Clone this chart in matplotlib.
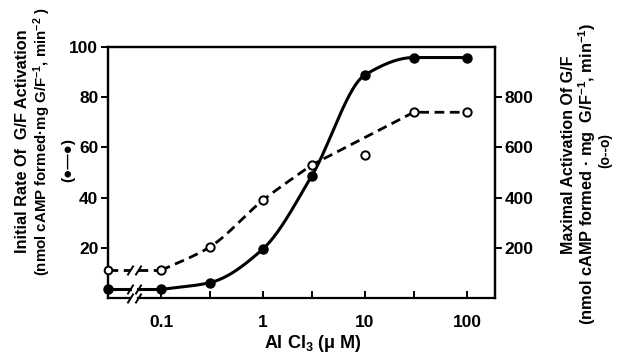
import numpy as np
import matplotlib
matplotlib.use('Agg')
import matplotlib.pyplot as plt
from matplotlib.ticker import FixedLocator, NullFormatter

plt.rcParams['font.family'] = ['Liberation Sans', 'DejaVu Sans']
plt.rcParams['font.weight'] = 'bold'
plt.rcParams['mathtext.fontset'] = 'custom'
plt.rcParams['mathtext.rm'] = 'Liberation Sans:bold'
plt.rcParams['mathtext.it'] = 'Liberation Sans:bold:italic'
plt.rcParams['mathtext.bf'] = 'Liberation Sans:bold'
plt.rcParams['mathtext.default'] = 'rm'

# данные (контроль без AlCl3 рисуется на левой оси)
conc = [0.1, 0.3, 1, 3, 10, 30, 100]
rate = [3.4, 6.1, 19.6, 48.6, 88.9, 95.8, 95.8]            # левая ось, ●
maxact = [110, 203, 390, 530, 568, 740, 740]                # правая ось, o
rate_ctrl = 3.4
maxact_ctrl = 110
dash_curve_idx = [0, 1, 2, 3, 5, 6]   # точка при 10 мкМ лежит вне кривой

x_ctrl = 0.0302
x_right = 188
brk = [0.050, 0.0596]


def pchip(x, y, xs):
    x = np.asarray(x, float)
    y = np.asarray(y, float)
    h = np.diff(x)
    d = np.diff(y) / h
    n = len(x)
    m = np.zeros(n)
    m[0], m[-1] = d[0], d[-1]
    for k in range(1, n - 1):
        if d[k - 1] * d[k] > 0:
            w1 = 2 * h[k] + h[k - 1]
            w2 = h[k] + 2 * h[k - 1]
            m[k] = (w1 + w2) / (w1 / d[k - 1] + w2 / d[k])
    i = np.clip(np.searchsorted(x, xs) - 1, 0, n - 2)
    t = (xs - x[i]) / h[i]
    h00 = 2 * t**3 - 3 * t**2 + 1
    h10 = t**3 - 2 * t**2 + t
    h01 = -2 * t**3 + 3 * t**2
    h11 = t**3 - t**2
    return h00 * y[i] + h10 * h[i] * m[i] + h01 * y[i + 1] + h11 * h[i] * m[i + 1]


fig = plt.figure(figsize=(6.19, 3.55), dpi=100)
ax = fig.add_axes([0.1745, 0.1606, 0.6252, 0.707])
ax2 = ax.twinx()

ax.set_xscale('log')
ax.set_xlim(x_ctrl, x_right)
ax.set_ylim(0, 100)
ax2.set_ylim(0, 1000)

lx = np.log10(conc)

# сплошная кривая (●)
xs = np.linspace(lx[0], lx[-1], 300)
ax.plot(10**xs, pchip(lx, rate, xs), color='black', lw=2.2, solid_capstyle='butt')
ax.plot(conc, rate, 'o', color='black', ms=6.5, zorder=5)

# пунктирная кривая (o)
dl = [lx[i] for i in dash_curve_idx]
dv = [maxact[i] for i in dash_curve_idx]
xs2 = np.linspace(dl[0], dl[3], 200)
dash_x = np.concatenate([10**xs2, [10**dl[4], 10**dl[5]]])
dash_y = np.concatenate([pchip(dl[:4], dv[:4], xs2), [dv[4], dv[5]]])
ax2.plot(dash_x, dash_y, color='black', lw=2.0, ls=(0, (3.5, 2)))
ax2.plot(conc, maxact, 'o', mfc='white', mec='black', mew=1.4, ms=6, zorder=5)

# контроль и разрывы
slash = [(-1, -1.6), (1, 1.6)]
ax.plot([x_ctrl, brk[0]], [rate_ctrl, rate_ctrl], color='black', lw=2.2, clip_on=False)
ax.plot([brk[1], conc[0]], [rate_ctrl, rate_ctrl], color='black', lw=2.2)
ax.plot(brk, [rate_ctrl, rate_ctrl], ls='none', marker=slash, ms=7, mew=1.4, color='black')
ax.plot([x_ctrl], [rate_ctrl], 'o', color='black', ms=6.5, clip_on=False, zorder=6)

ax2.plot([x_ctrl, brk[0]], [maxact_ctrl, maxact_ctrl], color='black', lw=2.0, ls=(0, (3.5, 2)), clip_on=False)
ax2.plot([brk[1], conc[0]], [maxact_ctrl, maxact_ctrl], color='black', lw=2.0, ls=(0, (3.5, 2)))
ax2.plot(brk, [maxact_ctrl, maxact_ctrl], ls='none', marker=slash, ms=7, mew=1.4, color='black')
ax2.plot([x_ctrl], [maxact_ctrl], 'o', mfc='white', mec='black', mew=1.4, ms=5.5, clip_on=False, zorder=6)

# ось X с разрывом
for a in (ax, ax2):
    for s in a.spines.values():
        s.set_linewidth(1.6)
    a.spines['bottom'].set_visible(False)
tr = ax.get_xaxis_transform()
ax.plot([x_ctrl, brk[0]], [0, 0], color='black', lw=1.6, transform=tr, clip_on=False)
ax.plot([brk[1], x_right], [0, 0], color='black', lw=1.6, transform=tr, clip_on=False)
ax.plot(brk, [0, 0], ls='none', marker=slash, ms=7, mew=1.4, color='black', transform=tr, clip_on=False)

ax.xaxis.set_major_locator(FixedLocator([0.1, 1, 10, 100]))
ax.xaxis.set_minor_locator(FixedLocator([0.3, 3, 30]))
ax.xaxis.set_minor_formatter(NullFormatter())
ax.set_xticklabels(['0.1', '1', '10', '100'])
ax.tick_params(axis='x', which='both', direction='in', length=5, width=1.4, labelsize=12.5, pad=12)

ax.set_yticks([20, 40, 60, 80, 100])
ax.tick_params(axis='y', direction='out', length=5, width=1.4, labelsize=12.5, pad=2)
ax2.set_yticks([200, 400, 600, 800])
ax2.tick_params(axis='y', direction='out', length=5, width=1.4, labelsize=12.5, pad=2)

fig.text(0.506, 0.032, r'Al Cl$_3$ (μ M)', ha='center', va='center', fontsize=13, fontweight='bold')

fig.text(0.036, 0.603, 'Initial Rate Of  G/F Activation', rotation=90, ha='center', va='center',
         fontsize=11.7, fontweight='bold')
fig.text(0.068, 0.60, r'(nmol cAMP formed·mg G/F$^{-1}$, min$^{-2}$ )', rotation=90, ha='center',
         va='center', fontsize=10.8, fontweight='bold')
fig.text(0.11, 0.55, '(●—●)', rotation=90, ha='center', va='center', fontsize=11, fontweight='bold')

fig.text(0.918, 0.563, 'Maximal Activation Of G/F', rotation=90, ha='center', va='center',
         fontsize=11.5, fontweight='bold')
fig.text(0.948, 0.51, r'(nmol cAMP formed · mg  G/F$^{-1}$, min$^{-1}$)', rotation=90, ha='center',
         va='center', fontsize=11.8, fontweight='bold')
fig.text(0.978, 0.575, '(o--o)', rotation=90, ha='center', va='center', fontsize=10, fontweight='bold')

fig.savefig('out.png', dpi=100)
